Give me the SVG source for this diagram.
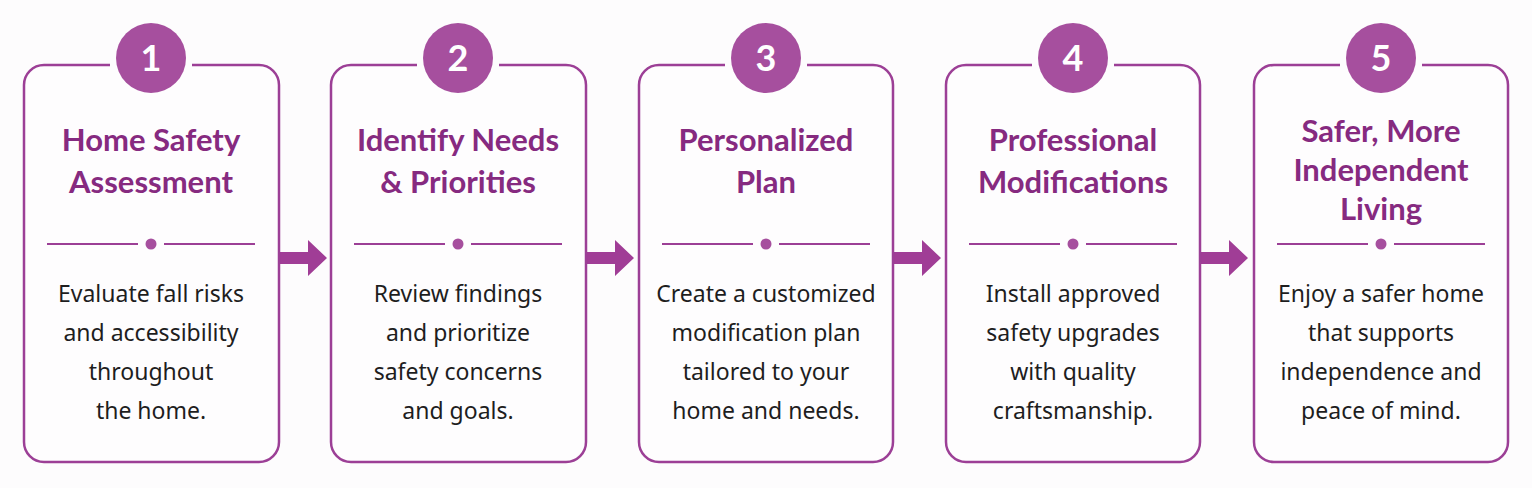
<svg xmlns="http://www.w3.org/2000/svg" width="1532" height="488" viewBox="0 0 1532 488">
<defs>
<style>
.box{fill:#fefdfe;stroke:#9c3f96;stroke-width:2.5}
.gapc{fill:#fdfcfd;stroke:none}
.num{fill:#a64f9e}
.numt{font-family:"Lato","Noto Sans",sans-serif;font-weight:700;font-size:36px;fill:#ffffff;text-anchor:middle}
.title{font-family:"Lato","Noto Sans",sans-serif;font-weight:700;font-size:31px;fill:#862a80;text-anchor:middle}
.body{font-family:"Noto Sans","Open Sans",sans-serif;font-size:23px;fill:#1e1e1e;text-anchor:middle}
.div{stroke:#9c3f96;stroke-width:2.2}
.dot{fill:#a64f9e}
.arrow{fill:#a03d96}
</style>
</defs>
<rect width="1532" height="488" fill="#fdfcfd"/>
<g id="connectors">
<path class="arrow" d="M280 252 H308 V240 L327 258 L308 276 V264 H280 Z"/>
<path class="arrow" d="M587 252 H615 V240 L634 258 L615 276 V264 H587 Z"/>
<path class="arrow" d="M894 252 H922 V240 L941 258 L922 276 V264 H894 Z"/>
<path class="arrow" d="M1201 252 H1229 V240 L1248 258 L1229 276 V264 H1201 Z"/>
</g>
<g id="node1">
<rect class="box" x="24" y="65" width="255" height="397" rx="20"/>
<rect class="gapc" x="110" y="60" width="82" height="10"/>
<circle class="num" cx="151" cy="58" r="35"/>
<text class="numt" x="151" y="71">1</text>
<text class="title" x="151" y="151">Home Safety</text>
<text class="title" x="151" y="193">Assessment</text>
<line class="div" x1="47" y1="244" x2="138" y2="244"/><circle class="dot" cx="151" cy="244" r="5.5"/><line class="div" x1="164" y1="244" x2="255" y2="244"/>
<text class="body" x="151" y="302">Evaluate fall risks</text>
<text class="body" x="151" y="341">and accessibility</text>
<text class="body" x="151" y="380">throughout</text>
<text class="body" x="151" y="419">the home.</text>
</g>
<g id="node2">
<rect class="box" x="331" y="65" width="255" height="397" rx="20"/>
<rect class="gapc" x="417" y="60" width="82" height="10"/>
<circle class="num" cx="458" cy="58" r="35"/>
<text class="numt" x="458" y="71">2</text>
<text class="title" x="458" y="151">Identify Needs</text>
<text class="title" x="458" y="193">&amp; Priorities</text>
<line class="div" x1="354" y1="244" x2="445" y2="244"/><circle class="dot" cx="458" cy="244" r="5.5"/><line class="div" x1="471" y1="244" x2="562" y2="244"/>
<text class="body" x="458" y="302">Review findings</text>
<text class="body" x="458" y="341">and prioritize</text>
<text class="body" x="458" y="380">safety concerns</text>
<text class="body" x="458" y="419">and goals.</text>
</g>
<g id="node3">
<rect class="box" x="639" y="65" width="254" height="397" rx="20"/>
<rect class="gapc" x="725" y="60" width="82" height="10"/>
<circle class="num" cx="766" cy="58" r="35"/>
<text class="numt" x="766" y="71">3</text>
<text class="title" x="766" y="151">Personalized</text>
<text class="title" x="766" y="193">Plan</text>
<line class="div" x1="662" y1="244" x2="753" y2="244"/><circle class="dot" cx="766" cy="244" r="5.5"/><line class="div" x1="779" y1="244" x2="870" y2="244"/>
<text class="body" x="766" y="302">Create a customized</text>
<text class="body" x="766" y="341">modification plan</text>
<text class="body" x="766" y="380">tailored to your</text>
<text class="body" x="766" y="419">home and needs.</text>
</g>
<g id="node4">
<rect class="box" x="946" y="65" width="254" height="397" rx="20"/>
<rect class="gapc" x="1032" y="60" width="82" height="10"/>
<circle class="num" cx="1073" cy="58" r="35"/>
<text class="numt" x="1073" y="71">4</text>
<text class="title" x="1073" y="151">Professional</text>
<text class="title" x="1073" y="193">Modifications</text>
<line class="div" x1="969" y1="244" x2="1060" y2="244"/><circle class="dot" cx="1073" cy="244" r="5.5"/><line class="div" x1="1086" y1="244" x2="1177" y2="244"/>
<text class="body" x="1073" y="302">Install approved</text>
<text class="body" x="1073" y="341">safety upgrades</text>
<text class="body" x="1073" y="380">with quality</text>
<text class="body" x="1073" y="419">craftsmanship.</text>
</g>
<g id="node5">
<rect class="box" x="1254" y="65" width="254" height="397" rx="20"/>
<rect class="gapc" x="1340" y="60" width="82" height="10"/>
<circle class="num" cx="1381" cy="58" r="35"/>
<text class="numt" x="1381" y="71">5</text>
<text class="title" x="1381" y="142">Safer, More</text>
<text class="title" x="1381" y="181">Independent</text>
<text class="title" x="1381" y="220">Living</text>
<line class="div" x1="1277" y1="244" x2="1368" y2="244"/><circle class="dot" cx="1381" cy="244" r="5.5"/><line class="div" x1="1394" y1="244" x2="1485" y2="244"/>
<text class="body" x="1381" y="302">Enjoy a safer home</text>
<text class="body" x="1381" y="341">that supports</text>
<text class="body" x="1381" y="380">independence and</text>
<text class="body" x="1381" y="419">peace of mind.</text>
</g>
</svg>
